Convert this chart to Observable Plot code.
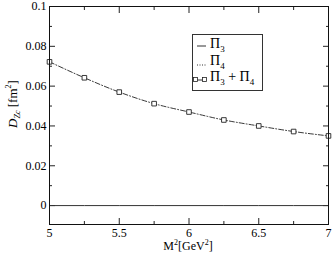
<!DOCTYPE html>
<html><head><meta charset="utf-8">
<script src="https://cdn.jsdelivr.net/npm/d3@7"></script>
<script src="https://cdn.jsdelivr.net/npm/@observablehq/plot@0.6"></script>
<style>
body{margin:0;background:#fff;}
#wrap{position:relative;width:332px;height:256px;font-family:"Liberation Serif","DejaVu Serif",serif;color:#000;}
#wrap svg{position:absolute;left:0;top:0;}
.lab{position:absolute;white-space:nowrap;font-size:12px;line-height:1;}
#legend{position:absolute;left:192px;top:34px;width:71px;height:57px;border:1px solid #333;background:#fff;box-sizing:border-box;}
#legend .row{position:absolute;left:0;height:16px;font-size:14px;line-height:1;}
#legend .row span{position:absolute;left:17px;top:0;white-space:nowrap;}
#legend sub{font-size:9px;vertical-align:-4px;line-height:0;}
</style></head>
<body><div id="wrap"></div>
<script>
const m2 = [5, 5.25, 5.5, 5.75, 6, 6.25, 6.5, 6.75, 7];
const pi3 = [0, 0, 0, 0, 0, 0, 0, 0, 0];
const pi3pi4 = [0.0722, 0.0642, 0.0570, 0.0512, 0.0470, 0.0430, 0.0400, 0.0372, 0.0350];
const xMajor = [5, 5.5, 6, 6.5, 7];
const xMinor = [5.25, 5.75, 6.25, 6.75];
const yMajor = [0, 0.02, 0.04, 0.06, 0.08, 0.1];
const yMinor = [0.01, 0.03, 0.05, 0.07, 0.09];
const xLabels = ["5", "5.5", "6", "6.5", "7"];
const yLabels = ["0", "0.02", "0.04", "0.06", "0.08", "0.1"];

const s3 = m2.map((x, i) => ({x, y: pi3[i]}));
const s34 = m2.map((x, i) => ({x, y: pi3pi4[i]}));

const tk = {stroke: "#222", strokeWidth: 1};
const chart = Plot.plot({
  width: 332, height: 256,
  marginLeft: 49, marginRight: 4, marginTop: 6, marginBottom: 32,
  style: {fontFamily: "Liberation Serif, serif", fontSize: "12px", background: "transparent", color: "#000"},
  x: {domain: [5, 7]},
  y: {domain: [-0.0095, 0.1]},
  marks: [
    Plot.axisX({ticks: xMajor, tickSize: 0, tickPadding: 4, tickFormat: (d, i) => xLabels[i], label: null, fontSize: 12}),
    Plot.axisY({ticks: yMajor, tickSize: 0, tickPadding: 3, tickFormat: (d, i) => yLabels[i], label: null, fontSize: 12}),
    Plot.axisX({ticks: xMajor, anchor: "bottom", tickSize: 6, dy: -6, text: null, label: null, ...tk}),
    Plot.axisX({ticks: xMinor, anchor: "bottom", tickSize: 3, dy: -3, text: null, label: null, ...tk}),
    Plot.axisX({ticks: xMajor, anchor: "top", tickSize: 6, dy: 6, text: null, label: null, ...tk}),
    Plot.axisX({ticks: xMinor, anchor: "top", tickSize: 3, dy: 3, text: null, label: null, ...tk}),
    Plot.axisY({ticks: yMajor, anchor: "left", tickSize: 6, dx: 6, text: null, label: null, ...tk}),
    Plot.axisY({ticks: yMinor, anchor: "left", tickSize: 3, dx: 3, text: null, label: null, ...tk}),
    Plot.axisY({ticks: yMajor, anchor: "right", tickSize: 6, dx: -6, text: null, label: null, ...tk}),
    Plot.axisY({ticks: yMinor, anchor: "right", tickSize: 3, dx: -3, text: null, label: null, ...tk}),
    Plot.line(s3, {x: "x", y: "y", stroke: "#333", strokeWidth: 1}),
    Plot.line(s34, {x: "x", y: "y", stroke: "#222", strokeWidth: 0.9, strokeDasharray: "5,2,1,2", curve: "monotone-x"}),
    Plot.dot(s34, {x: "x", y: "y", symbol: "square", r: 2.6, fill: "white", stroke: "#222", strokeWidth: 0.9}),
    Plot.frame({stroke: "#111", strokeWidth: 1})
  ]
});
const wrap = document.getElementById("wrap");
wrap.appendChild(chart);

const xl = document.createElement("div");
xl.className = "lab";
xl.style.left = "188px"; xl.style.top = "240px"; xl.style.transform = "translateX(-50%)";
xl.innerHTML = 'M<sup style="font-size:8px;vertical-align:5px;line-height:0">2</sup>[GeV<sup style="font-size:8px;vertical-align:5px;line-height:0">2</sup>]';
wrap.appendChild(xl);

const yl = document.createElement("div");
yl.className = "lab";
yl.style.left = "12px"; yl.style.top = "104px"; yl.style.transform = "translate(-50%,-50%) rotate(-90deg)";
yl.style.fontSize = "13px";
yl.innerHTML = '<i>D</i><sub style="font-size:8px;vertical-align:-3px;line-height:0"><i>Zc</i></sub> [fm<sup style="font-size:8px;vertical-align:6px;line-height:0">2</sup>]';
wrap.appendChild(yl);

const leg = document.createElement("div");
leg.id = "legend";
const names = ['Π<sub>3</sub>', 'Π<sub>4</sub>', 'Π<sub>3</sub> + Π<sub>4</sub>'];
const samples = [
  '<line x1="4" x2="13" y1="7" y2="7" stroke="#333" stroke-width="1"/>',
  '<line x1="4" x2="13" y1="9" y2="9" stroke="#333" stroke-width="1" stroke-dasharray="1,1.5"/>',
  '<line x1="2" x2="12" y1="8" y2="8" stroke="#333" stroke-width="1"/><rect x="0.5" y="5.5" width="4" height="4" fill="white" stroke="#222" stroke-width="0.8"/><rect x="9.5" y="5.5" width="4" height="4" fill="white" stroke="#222" stroke-width="0.8"/>'
];
const tops = [2, 19, 35];
names.forEach((n, i) => {
  const r = document.createElement("div");
  r.className = "row";
  r.style.top = tops[i] + "px";
  r.style.width = "70px";
  r.innerHTML = `<svg width="16" height="16" style="position:absolute;left:0;top:2px">${samples[i]}</svg><span>${n}</span>`;
  leg.appendChild(r);
});
wrap.appendChild(leg);
</script>
</body></html>
